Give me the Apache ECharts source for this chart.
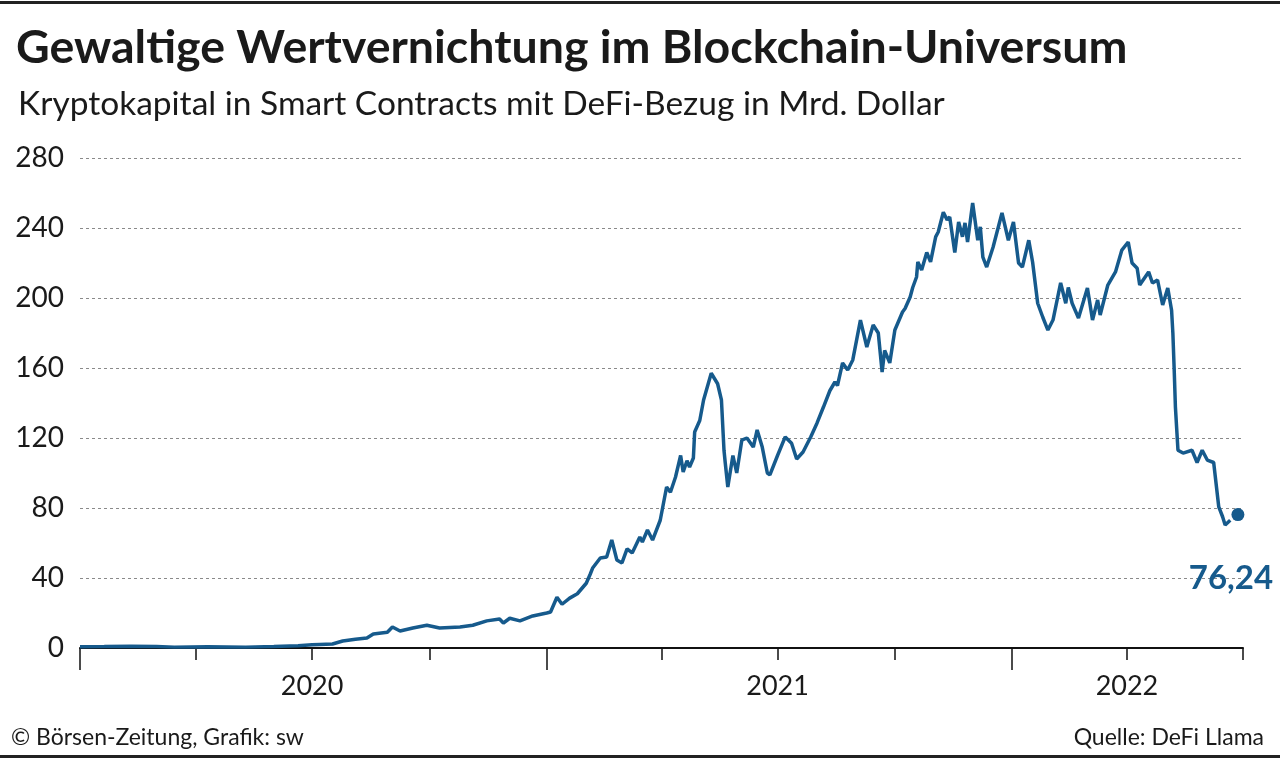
<!DOCTYPE html>
<html>
<head>
<meta charset="utf-8">
<script src="https://cdn.jsdelivr.net/npm/echarts@6/dist/echarts.min.js"></script>
<style>
html,body{margin:0;padding:0;background:#fff;}
#chart{width:1280px;height:760px;}
</style>
</head>
<body>
<div id="chart"></div>
<script>
// ---- data (Mrd. Dollar) ----
const dates = [
'2020-01-01','2020-01-20','2020-02-10','2020-03-01','2020-03-15','2020-04-10','2020-05-10','2020-06-01','2020-06-20',
'2020-07-01','2020-07-07','2020-07-17','2020-07-25','2020-08-04','2020-08-13','2020-08-18','2020-08-29','2020-09-02',
'2020-09-08','2020-09-18','2020-09-29','2020-10-09','2020-10-25','2020-11-04','2020-11-15','2020-11-25','2020-11-28',
'2020-12-03','2020-12-11','2020-12-21','2021-01-01','2021-01-04','2021-01-09','2021-01-13','2021-01-19','2021-01-25',
'2021-02-01','2021-02-04','2021-02-06','2021-02-12','2021-02-17','2021-02-21','2021-02-25','2021-03-01','2021-03-05',
'2021-03-09','2021-03-15','2021-03-17','2021-03-21','2021-03-25','2021-03-31','2021-04-05','2021-04-08','2021-04-12',
'2021-04-16','2021-04-18','2021-04-21','2021-04-23','2021-04-26','2021-04-27','2021-05-01','2021-05-04','2021-05-10',
'2021-05-15','2021-05-18','2021-05-20','2021-05-21','2021-05-23','2021-05-27','2021-05-30','2021-06-03','2021-06-07',
'2021-06-12','2021-06-15','2021-06-19','2021-06-23','2021-06-25','2021-07-01','2021-07-07','2021-07-12','2021-07-16',
'2021-07-21','2021-07-27','2021-08-01','2021-08-06','2021-08-11','2021-08-15','2021-08-17','2021-08-21','2021-08-25',
'2021-08-29','2021-09-04','2021-09-09','2021-09-14','2021-09-18','2021-09-21','2021-09-23','2021-09-27','2021-10-01',
'2021-10-07','2021-10-09','2021-10-13','2021-10-15','2021-10-18','2021-10-19','2021-10-22','2021-10-26','2021-10-29',
'2021-11-02','2021-11-04','2021-11-08','2021-11-11','2021-11-13','2021-11-17','2021-11-20','2021-11-23','2021-11-25',
'2021-11-27','2021-12-01','2021-12-05','2021-12-07','2021-12-09','2021-12-12','2021-12-17','2021-12-24','2021-12-29',
'2022-01-02','2022-01-06','2022-01-09','2022-01-14','2022-01-17','2022-01-21','2022-01-23','2022-01-25','2022-01-29',
'2022-02-02','2022-02-08','2022-02-12','2022-02-14','2022-02-17','2022-02-22','2022-03-01','2022-03-05','2022-03-09',
'2022-03-11','2022-03-17','2022-03-23','2022-03-28','2022-04-02','2022-04-05','2022-04-09','2022-04-11','2022-04-18',
'2022-04-21','2022-04-25','2022-04-29','2022-05-03','2022-05-06','2022-05-07','2022-05-08','2022-05-09','2022-05-11',
'2022-05-15','2022-05-22','2022-05-26','2022-05-30','2022-06-03','2022-06-08','2022-06-12','2022-06-15','2022-06-17',
'2022-06-21'
];
const values = [
0.7,0.8,1.0,0.9,0.5,0.7,0.5,0.9,1.3,
1.8,2.0,2.3,4.0,5.0,5.7,8.0,9.0,12.0,
9.7,11.4,13.0,11.4,12.0,13.0,15.5,16.6,14.3,
17.0,15.5,18.3,20.0,20.6,29.0,25.0,28.5,31.0,
37.0,42.0,45.7,51.4,52.0,61.7,50.3,48.6,56.6,
54.3,63.4,60.6,67.4,61.7,73.0,92.0,89.0,97.7,
110.0,100.6,107.0,103.4,108.6,123.4,130.0,141.7,157.0,
151.0,141.7,113.0,105.7,92.0,110.0,100.0,118.8,120.0,
114.8,124.6,114.8,100.0,98.9,110.0,120.6,117.0,108.0,
112.0,120.6,128.6,137.7,147.0,152.0,150.0,162.9,158.9,
164.6,187.4,172.0,184.6,180.0,157.7,170.0,162.9,181.7,
192.0,194.0,200.6,206.0,212.0,220.6,216.0,226.0,220.6,
234.9,237.7,249.0,244.6,246.3,226.0,243.4,235.0,242.9,
232.0,254.3,233.0,240.6,223.4,217.7,229.0,248.6,233.0,
243.4,220.0,217.7,233.0,220.6,197.0,193.0,189.0,181.7,
187.4,208.6,197.0,206.0,197.0,188.6,205.7,187.4,198.9,
190.3,207.4,214.9,227.4,232.0,220.0,217.0,207.4,214.9,
208.6,210.3,196.0,205.7,193.0,180.0,160.0,137.7,113.0,
111.4,113.0,106.0,113.0,107.4,106.0,80.6,75.0,70.3,
73.0
];
const lastDate = '2022-06-27';
const lastValue = 76.24;
const lastLabel = '76,24';

const xMin = '2020-01-01';
const xMax = '2022-07-01';
const quarterTicks = ['2020-01-01','2020-04-01','2020-07-01','2020-10-01','2021-01-01','2021-04-01','2021-07-01','2021-10-01','2022-01-01','2022-04-01','2022-07-01'];
const yearTicks = ['2020-01-01','2021-01-01','2022-01-01'];
const yearLabelPos = ['2020-07-01','2021-07-01','2022-04-01'];
const yearLabels = ['2020','2021','2022'];

const titleText = 'Gewaltige Wertvernichtung im Blockchain-Universum';
const subtitleText = 'Kryptokapital in Smart Contracts mit DeFi-Bezug in Mrd. Dollar';
const footLeft = '© Börsen-Zeitung, Grafik: sw';
const footRight = 'Quelle: DeFi Llama';

// ---- chart ----
const ts = s => { const p = s.split('-').map(Number); return Date.UTC(p[0], p[1]-1, p[2]); };
const FONT = 'Lato, "Open Sans", sans-serif';
const BLUE = '#165a8c';

const lineData = dates.map((d,i) => [ts(d), values[i]]);
const labelMap = {};
yearLabelPos.forEach((d,i) => { labelMap[ts(d)] = yearLabels[i]; });

const baseX = {
  type: 'value', gridIndex: 0, min: ts(xMin), max: ts(xMax), position: 'bottom',
  splitLine: {show:false}, axisLine: {show:false}, axisLabel: {show:false}, axisTick: {show:false}
};

const chart = echarts.init(document.getElementById('chart'), null, {renderer:'canvas'});
chart.setOption({
  animation: false,
  backgroundColor: '#fff',
  title: [
    {text: titleText, left: 11, top: 19, textStyle: {fontFamily: FONT, fontSize: 46.5, fontWeight: 'bold', color: '#1a1a1a'}},
    {text: subtitleText, left: 13, top: 82, textStyle: {fontFamily: FONT, fontSize: 33.5, fontWeight: 'normal', color: '#1a1a1a'}},
    {text: footLeft, left: 6, top: 721, textStyle: {fontFamily: FONT, fontSize: 23, fontWeight: 'normal', color: '#1a1a1a'}},
    {text: footRight, right: 11, top: 721, textStyle: {fontFamily: FONT, fontSize: 23, fontWeight: 'normal', color: '#1a1a1a'}}
  ],
  graphic: [
    {type:'rect', shape:{x:0, y:1, width:1280, height:3}, style:{fill:'#222'}},
    {type:'rect', shape:{x:0, y:755, width:1280, height:3}, style:{fill:'#222'}}
  ],
  grid: {left: 80, right: 37, top: 158, bottom: 112},
  xAxis: [
    Object.assign({}, baseX, {
      axisLine: {show:true, onZero:false, lineStyle:{color:'#111', width:2}},
      axisTick: {show:true, customValues: quarterTicks.map(ts), length: 12, lineStyle:{color:'#111', width:1.5}}
    }),
    Object.assign({}, baseX, {
      axisTick: {show:true, customValues: yearTicks.map(ts), length: 22, lineStyle:{color:'#111', width:1.5}}
    }),
    Object.assign({}, baseX, {
      axisLabel: {show:true, customValues: yearLabelPos.map(ts), formatter: v => labelMap[v] || '', margin: 25,
        fontFamily: FONT, fontSize: 27, color:'#1a1a1a'}
    })
  ],
  yAxis: {
    type: 'value', min: 0, max: 280, interval: 40,
    axisLine: {show:false}, axisTick: {show:false},
    axisLabel: {fontFamily: FONT, fontSize: 28, color:'#1a1a1a', margin: 16},
    splitLine: {show:true, lineStyle:{color:'#8a8a8a', type:[3,3], width:1}}
  },
  series: [
    {type:'line', xAxisIndex:0, data: lineData, showSymbol:false, symbol:'none',
      lineStyle:{color: BLUE, width:3.5}, z:3},
    {type:'scatter', xAxisIndex:0, data: [[ts(lastDate), lastValue]], symbolSize: 13,
      itemStyle:{color: BLUE, opacity: 1}, z:4,
      label:{show:true, formatter: lastLabel, position:'inside', offset:[-7, 64],
        fontFamily: FONT, fontSize: 33, fontWeight:'bold', color: BLUE}}
  ]
});
</script>
</body>
</html>
